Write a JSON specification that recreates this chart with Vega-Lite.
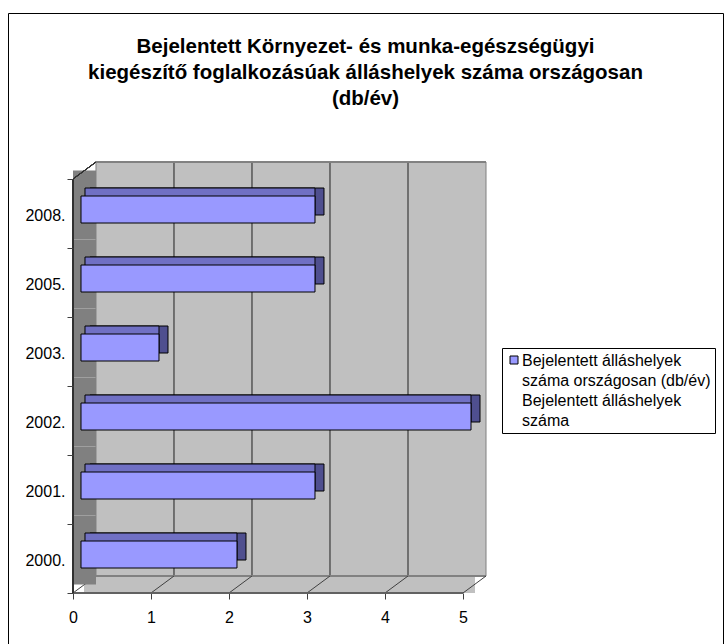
{
  "$schema": "https://vega.github.io/schema/vega-lite/v6.json",
  "autosize": {"type": "none"},
  "padding": {"left": 8, "top": 13, "right": 4, "bottom": 0},
  "width": 715,
  "height": 640,
  "background": "white",
  "config": {
    "font": "Liberation Sans",
    "view": {"stroke": "#000000", "strokeWidth": 1, "fill": "white"},
    "style": {"guide-label": {"lineHeight": 20, "dy": -7}}
  },
  "title": {
    "text": ["Bejelentett Környezet- és munka-egészségügyi", "kiegészítő foglalkozásúak álláshelyek száma országosan", "(db/év)"],
    "fontSize": 20.5,
    "fontWeight": "bold",
    "color": "#000000",
    "lineHeight": 26,
    "anchor": "middle",
    "frame": "group",
    "offset": -103,
    "dy": 8
  },
  "data": {
    "values": [
      {"year": "2000.", "value": 2},
      {"year": "2001.", "value": 3},
      {"year": "2002.", "value": 5},
      {"year": "2003.", "value": 1},
      {"year": "2005.", "value": 3},
      {"year": "2008.", "value": 3}
    ]
  },
  "encoding": {
    "y": {
      "field": "year",
      "type": "nominal",
      "scale": {
        "domain": ["2008.", "2005.", "2003.", "2002.", "2001.", "2000."],
        "range": [166, 580],
        "paddingInner": 0,
        "paddingOuter": 0
      },
      "axis": {
        "orient": "left",
        "offset": -65,
        "title": null,
        "domain": false,
        "grid": false,
        "tickBand": "extent",
        "tickSize": 6,
        "tickColor": "#404040",
        "labelFontSize": 16,
        "labelColor": "#000000",
        "labelPadding": 2,
        "labelOffset": 9
      }
    }
  },
  "layer": [
    {
      "mark": {"type": "rect", "fill": "#C0C0C0", "xOffset": 23, "x2Offset": 23, "yOffset": -17, "y2Offset": -17},
      "encoding": {
        "x": {
          "datum": 0,
          "type": "quantitative",
          "scale": {"domain": [-0.83333, 8.33333], "nice": false, "zero": false},
          "axis": {
            "orient": "bottom",
            "offset": -60,
            "values": [0, 1, 2, 3, 4, 5],
            "format": "d",
            "title": null,
            "domain": false,
            "grid": false,
            "tickSize": 6,
            "tickColor": "#404040",
            "labelFontSize": 16,
            "labelColor": "#000000",
            "labelPadding": 17
          }
        },
        "x2": {"datum": 5}
      }
    },
    {
      "data": {"values": [{"v": 1}, {"v": 2}, {"v": 3}, {"v": 4}]},
      "mark": {"type": "rule", "color": "#202020", "strokeWidth": 1, "xOffset": 23, "yOffset": -51.5, "y2Offset": 17.5},
      "encoding": {
        "x": {"field": "v", "type": "quantitative"},
        "y": {"datum": "2008."},
        "y2": {"datum": "2000."}
      }
    },
    {
      "data": {"values": [{"v": 0}, {"v": 5}]},
      "mark": {"type": "rule", "color": "#808080", "strokeWidth": 1, "xOffset": 23, "yOffset": -51.5, "y2Offset": 17.5},
      "encoding": {
        "x": {"field": "v", "type": "quantitative"},
        "y": {"datum": "2008."},
        "y2": {"datum": "2000."}
      }
    },
    {
      "mark": {"type": "rule", "color": "#808080", "strokeWidth": 1, "xOffset": 23, "x2Offset": 23, "yOffset": -51.5},
      "encoding": {
        "x": {"datum": 0},
        "x2": {"datum": 5},
        "y": {"datum": "2008."}
      }
    },
    {
      "mark": {"type": "bar", "fill": "#C0C0C0", "height": 17, "xOffset": 11.5, "x2Offset": 11.5, "yOffset": 26},
      "encoding": {
        "x": {"datum": 0},
        "x2": {"datum": 5},
        "y": {"datum": "2000."}
      }
    },
    {
      "mark": {"type": "rule", "color": "#808080", "strokeWidth": 1, "xOffset": 23, "x2Offset": 23, "yOffset": 17.5},
      "encoding": {
        "x": {"datum": 0},
        "x2": {"datum": 5},
        "y": {"datum": "2000."}
      }
    },
    {
      "data": {"values": [{"v": 0}, {"v": 1}, {"v": 2}, {"v": 3}, {"v": 4}, {"v": 5}]},
      "mark": {"type": "rule", "color": "#404040", "strokeWidth": 1, "x2Offset": 23, "yOffset": 34.5, "y2Offset": 17.5},
      "encoding": {
        "x": {"field": "v", "type": "quantitative"},
        "x2": {"field": "v"},
        "y": {"datum": "2000."},
        "y2": {"datum": "2000."}
      }
    },
    {
      "mark": {"type": "rule", "color": "#606060", "strokeWidth": 1, "yOffset": 34.5},
      "encoding": {
        "x": {"datum": 0},
        "x2": {"datum": 5},
        "y": {"datum": "2000."}
      }
    },
    {
      "mark": {"type": "rect", "fill": "#808080", "x2Offset": 23, "yOffset": -8.5, "y2Offset": -8.5},
      "encoding": {
        "x": {"datum": 0},
        "x2": {"datum": 0}
      }
    },
    {
      "mark": {"type": "rule", "color": "#303030", "strokeWidth": 1, "x2Offset": 23, "yOffset": -34.5, "y2Offset": -51.5},
      "encoding": {
        "x": {"datum": 0},
        "x2": {"datum": 0},
        "y": {"datum": "2008."},
        "y2": {"datum": "2008."}
      }
    },
    {
      "mark": {"type": "rule", "color": "#303030", "strokeWidth": 1, "yOffset": -34.5, "y2Offset": 34.5},
      "encoding": {
        "x": {"datum": 0},
        "y": {"datum": "2008."},
        "y2": {"datum": "2000."}
      }
    },
    {
      "mark": {"type": "bar", "fill": "#4F4F8F", "stroke": "#000000", "strokeWidth": 1, "height": 27, "xOffset": 17, "x2Offset": 17, "yOffset": -12},
      "encoding": {
        "x": {"field": "value", "type": "quantitative", "stack": null},
        "x2": {"datum": 0}
      }
    },
    {
      "mark": {"type": "bar", "fill": "#7070C4", "stroke": "#000000", "strokeWidth": 1, "height": 27, "xOffset": 8, "x2Offset": 12, "yOffset": -12},
      "encoding": {
        "x": {"field": "value", "type": "quantitative", "stack": null},
        "x2": {"datum": 0}
      }
    },
    {
      "mark": {"type": "bar", "stroke": "#000000", "strokeWidth": 1, "height": 27, "xOffset": 8, "x2Offset": 8, "yOffset": -4},
      "encoding": {
        "x": {"field": "value", "type": "quantitative", "stack": null},
        "x2": {"datum": 0},
        "color": {
          "datum": "Bejelentett álláshelyek száma országosan (db/év) Bejelentett álláshelyek száma",
          "type": "nominal",
          "scale": {"range": ["#9999FF"]},
          "legend": {
            "orient": "none",
            "legendX": 494,
            "legendY": 335,
            "title": null,
            "strokeColor": "#000000",
            "fillColor": "#FFFFFF",
            "padding": 4,
            "symbolType": "square",
            "symbolSize": 64,
            "symbolStrokeColor": "#000000",
            "symbolStrokeWidth": 1,
            "symbolFillColor": "#9999FF",
            "labelFontSize": 16,
            "labelColor": "#000000",
            "labelOffset": 0,
            "labelLimit": 400,
            "labelBaseline": "top",
            "labelExpr": "['Bejelentett álláshelyek', 'száma országosan (db/év)', 'Bejelentett álláshelyek', 'száma']"
          }
        }
      }
    }
  ]
}
